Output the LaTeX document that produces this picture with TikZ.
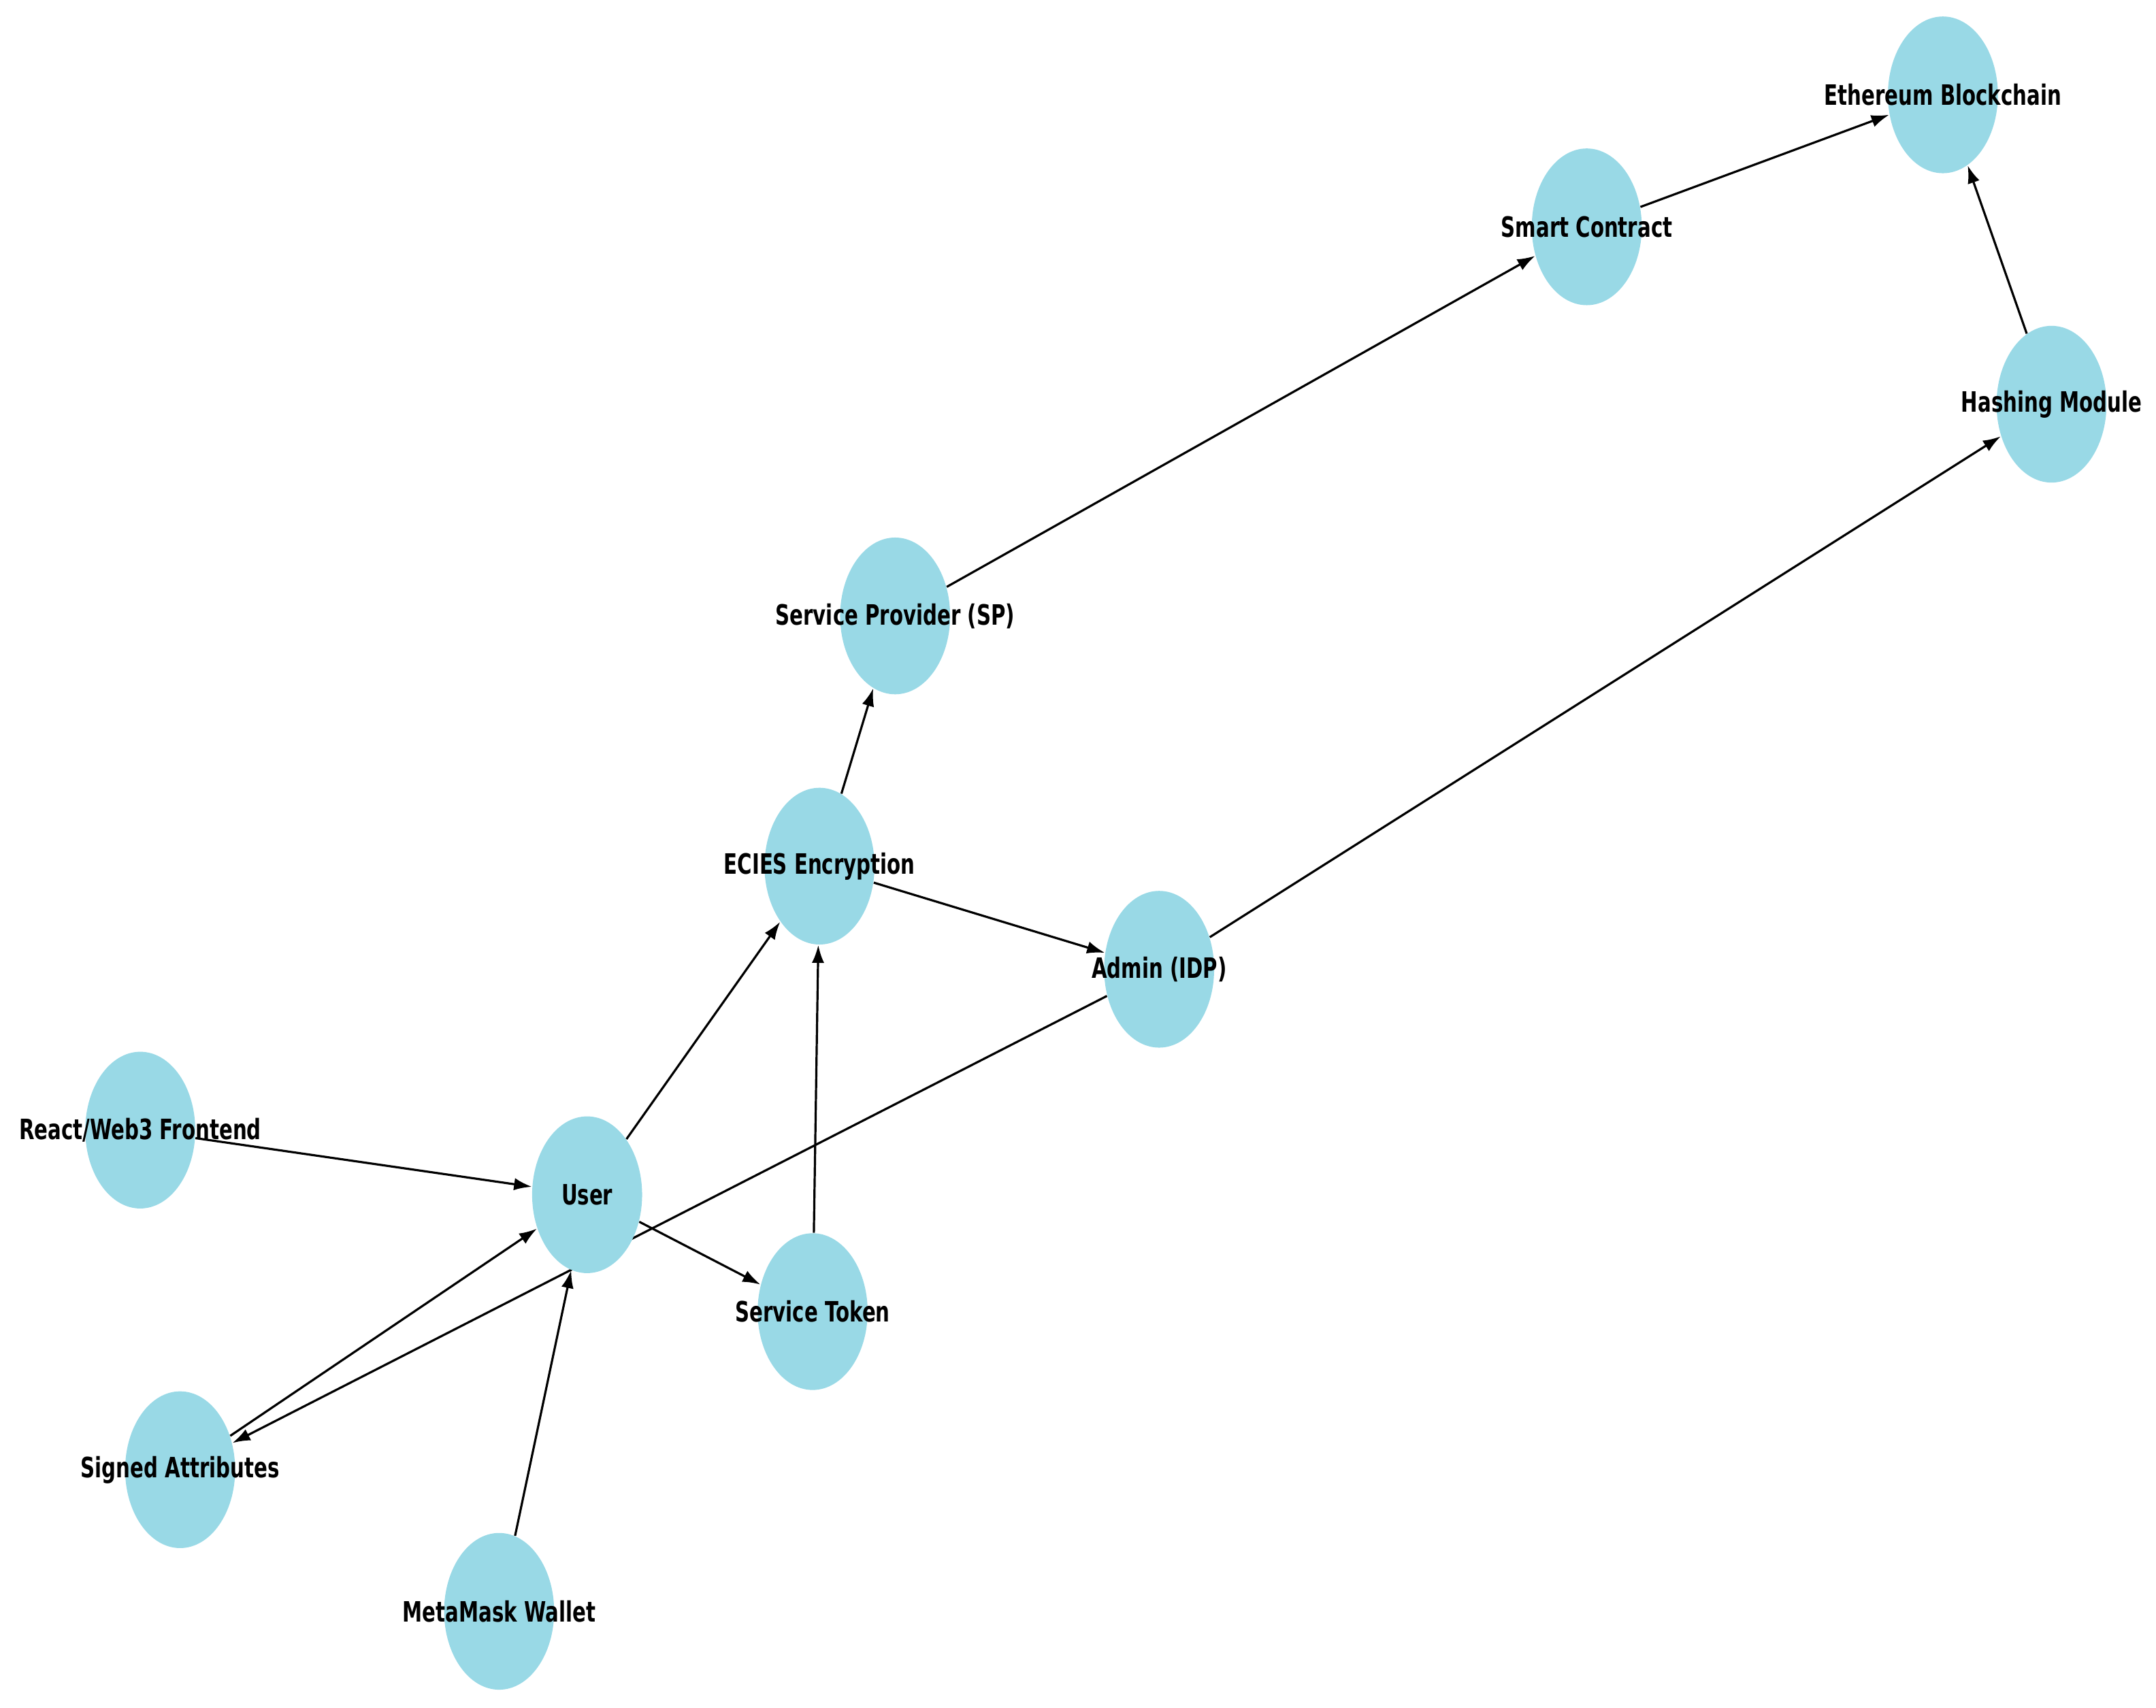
\documentclass[tikz,border=0pt]{standalone}
\usepackage{fontspec}
\setmainfont{DejaVu Sans}[FakeStretch=0.71]
\usetikzlibrary{arrows.meta, shapes.geometric, backgrounds}
\definecolor{nodeblue}{RGB}{153,217,230}

\begin{document}
\begin{tikzpicture}[x=0.2mm, y=-0.2mm,
        comp/.style={ellipse, fill=nodeblue, minimum width=1.6cm, minimum height=2.28cm, inner sep=0pt},
        lbl/.style={font=\bfseries\fontsize{11.6}{13}\selectfont, inner sep=0pt},
        flow/.style={-{Latex[length=2.6mm, width=1.8mm]}, line width=0.9pt}]
        \useasboundingbox (0,0) rectangle (1568,1242);

        % components
        \node[comp, label={[lbl]center:Ethereum Blockchain}] (eth) at (1413,69) {};
        \node[comp, label={[lbl]center:Smart Contract}] (sc) at (1154,165) {};
        \node[comp, label={[lbl]center:Hashing Module}] (hash) at (1492,294) {};
        \node[comp, label={[lbl]center:Service Provider (SP)}] (sp) at (651,448) {};
        \node[comp, label={[lbl]center:ECIES Encryption}] (ecies) at (596,630) {};
        \node[comp, label={[lbl]center:Admin (IDP)}] (admin) at (843,705) {};
        \node[comp, label={[lbl]center:React/Web3 Frontend}] (front) at (102,822) {};
        \node[comp, label={[lbl]center:User}] (user) at (427,869) {};
        \node[comp, label={[lbl]center:Service Token}] (token) at (591,954) {};
        \node[comp, label={[lbl]center:Signed Attributes}] (signed) at (131,1069) {};
        \node[comp, label={[lbl]center:MetaMask Wallet}] (wallet) at (363,1172) {};

        % edges
        \begin{pgfonlayer}{background}
        \draw[flow] (front) -- (user);
        \draw[flow] (user) -- (ecies);
        \draw[flow] (user) -- (token);
        \draw[flow] (signed) -- (user);
        \draw[flow] (wallet) -- (user);
        \draw[flow] (admin) -- (signed);
        \draw[flow] (token) -- (ecies);
        \draw[flow] (ecies) -- (sp);
        \draw[flow] (ecies) -- (admin);
        \draw[flow] (sp) -- (sc);
        \draw[flow] (sc) -- (eth);
        \draw[flow] (admin) -- (hash);
        \draw[flow] (hash) -- (eth);
        \end{pgfonlayer}
\end{tikzpicture}
\end{document}
